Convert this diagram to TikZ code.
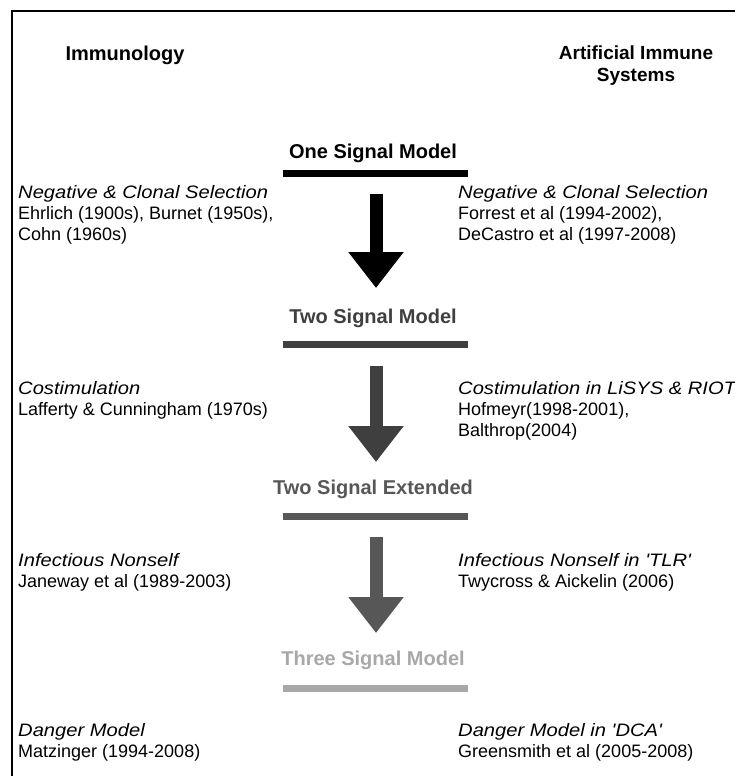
\documentclass[tikz,border=0pt]{standalone}
\usepackage{fontspec}
\setmainfont{Liberation Sans}
\newfontfamily\widefont[FakeStretch=1.12]{Liberation Sans}
\usetikzlibrary{arrows.meta}

\definecolor{signalA}{gray}{0}
\definecolor{signalB}{HTML}{3F3F3F}
\definecolor{signalC}{HTML}{575757}
\definecolor{signalD}{HTML}{A8A8A8}

\newcommand{\modeltext}[1]{{\widefont\itshape #1}}

\begin{document}
\begin{tikzpicture}[x=1bp,y=-1bp]

\tikzstyle{myheading}=[font=\fontsize{20bp}{22bp}\selectfont\bfseries,
align=center,
inner sep=0pt
]
\tikzstyle{mytitle}=[font=\fontsize{20bp}{22bp}\selectfont\bfseries, inner sep=0pt]
\tikzstyle{mybar}=[line width=7bp]
\tikzstyle{mytext}=[font=\fontsize{18bp}{21bp}\selectfont,
align=left,
inner sep=0pt,
anchor=north west
]
\tikzstyle{myarrow}=[line width=13bp, -{Triangle[length=36bp,width=53bp]}]

\useasboundingbox (0,0) rectangle (735,776);
\draw[line width=2.5bp] (12,776) -- (12,11) -- (735,11);

% column heads
\node[myheading] (immuno) at (125,55) {Immunology};
\node[myheading, font=\fontsize{19bp}{22bp}\selectfont\bfseries] (ais) at (636,66) {Artificial Immune\\Systems};

% model titles
\coordinate (pt1) at (373,153);
\coordinate (pt2) at (373,318);
\coordinate (pt3) at (373,489);
\coordinate (pt4) at (373,660);

\node[mytitle, signalA] (t1) at (pt1) {One Signal Model};
\node[mytitle, signalB] (t2) at (pt2) {Two Signal Model};
\node[mytitle, signalC] (t3) at (pt3) {Two Signal Extended};
\node[mytitle, signalD] (t4) at (pt4) {Three Signal Model};

\draw[mybar, signalA] (283,173) -- (468,173);
\draw[mybar, signalB] (283,344) -- (468,344);
\draw[mybar, signalC] (283,516) -- (468,516);
\draw[mybar, signalD] (283,688) -- (468,688);

% arrows between the models
\coordinate (a1s) at (376,194);
\coordinate (a1e) at (376,288);
\coordinate (a2s) at (376,366);
\coordinate (a2e) at (376,462);
\coordinate (a3s) at (376,537);
\coordinate (a3e) at (376,633);

\draw[myarrow, signalA] (a1s) -- (a1e);
\draw[myarrow, signalB] (a2s) -- (a2e);
\draw[myarrow, signalC] (a3s) -- (a3e);

% immunology side
\node[mytext] (l1) at (18,185) {\modeltext{Negative \& Clonal Selection}\\Ehrlich (1900s), Burnet (1950s),\\Cohn (1960s)};
\node[mytext] (l2) at (18,381) {\modeltext{Costimulation}\\Lafferty \& Cunningham (1970s)};
\node[mytext] (l3) at (18,553) {\modeltext{Infectious Nonself}\\Janeway et al (1989-2003)};
\node[mytext] (l4) at (18,723) {\modeltext{Danger Model}\\Matzinger (1994-2008)};

% AIS side
\node[mytext] (r1) at (458,185) {\modeltext{Negative \& Clonal Selection}\\Forrest et al (1994-2002),\\DeCastro et al (1997-2008)};
\node[mytext] (r2) at (458,381) {\modeltext{Costimulation in LiSYS \& RIOT}\\Hofmeyr(1998-2001),\\Balthrop(2004)};
\node[mytext] (r3) at (458,553) {\modeltext{Infectious Nonself in 'TLR'}\\Twycross \& Aickelin (2006)};
\node[mytext] (r4) at (458,723) {\modeltext{Danger Model in 'DCA'}\\Greensmith et al (2005-2008)};

\end{tikzpicture}
\end{document}
